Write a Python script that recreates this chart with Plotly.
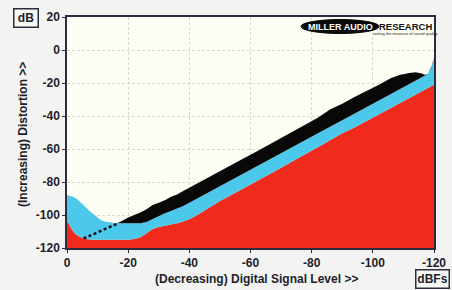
import plotly.graph_objects as go

# ---- data ----
level_dbfs = [0, -1, -2, -3, -4, -5, -6, -7, -8, -9, -10, -11, -12, -13, -14, -15, -16, -17, -18,
              -20, -22, -24, -26, -28, -30, -32, -34, -36, -38, -40, -43, -46, -50, -54, -58,
              -62, -66, -70, -74, -78, -82, -86, -90, -94, -98, -102, -106, -109, -112, -114,
              -116, -117, -118, -119, -119.5, -120]

red_top = [-103.5, -107, -110, -112, -113.2, -114, -114.5, -114.8, -115, -115, -115, -115, -115,
           -115, -115, -115, -115, -115, -115, -115, -114.5, -113.5, -111, -108.5, -107.3,
           -106.6, -106, -105, -104, -102.6, -99.5, -96, -91.5, -87.5, -83.6, -79.5, -75.5,
           -71.3, -67, -63, -59, -54.5, -50.5, -47, -43, -39, -35, -32.5, -29.5, -27.5, -25.5,
           -24.5, -23.5, -22.5, -22, -21]

cyan_top = [-88, -88.5, -89, -90, -91.5, -93, -95, -97, -98.5, -100, -101.5, -103, -103.8, -104.2,
            -104.6, -104.8, -105, -105, -105, -105, -105, -105, -104.3, -102.5, -100.5, -99,
            -97.5, -96, -94.5, -92.5, -89.5, -86.5, -82.8, -79, -75, -71, -67, -63, -59, -55,
            -51, -46.5, -42.5, -38.5, -34.5, -30.5, -26.5, -23.5, -20.5, -18.5, -16.5, -15.5,
            -14.5, -11, -8.5, -5]

black_top = [-88, -88.5, -89, -90, -91.5, -93, -95, -97, -98.5, -100, -101.5, -103, -103.8, -104.2,
             -104.6, -104.8, -105, -104.5, -103.5, -101.5, -100, -98.5, -96.5, -94, -92.5, -91,
             -89, -87.5, -85.5, -83.5, -80.5, -77, -73, -69.3, -65.5, -61.5, -57.5, -53.5,
             -49.5, -45, -41, -36, -32.5, -28.5, -25, -21, -17, -15, -14, -13.5, -14.2, -15,
             -14.5, -11, -8.5, -5]

dotted_x = [-5.4, -16.8]
dotted_y = [-114.2, -105]

x_ticks = [0, -20, -40, -60, -80, -100, -120]
y_ticks = [20, 0, -20, -40, -60, -80, -100, -120]

FLOOR = -120
TXT = "#1e1e2c"
FONT = "Liberation Sans"

fig = go.Figure()
fig.add_trace(go.Scatter(x=level_dbfs, y=[FLOOR] * len(level_dbfs), mode="lines",
                         line=dict(width=0), showlegend=False, hoverinfo="skip"))
fig.add_trace(go.Scatter(x=level_dbfs, y=red_top, mode="lines", fill="tonexty",
                         fillcolor="#f02a1c", line=dict(width=0), showlegend=False))
fig.add_trace(go.Scatter(x=level_dbfs, y=cyan_top, mode="lines", fill="tonexty",
                         fillcolor="#4cc9ea", line=dict(width=0), showlegend=False))
fig.add_trace(go.Scatter(x=level_dbfs, y=black_top, mode="lines", fill="tonexty",
                         fillcolor="#080808", line=dict(width=0), showlegend=False))
fig.add_trace(go.Scatter(x=dotted_x, y=dotted_y, mode="lines",
                         line=dict(color="#101030", width=2.5, dash="3px,2.5px"),
                         showlegend=False))

axis_common = dict(
    showline=True, mirror=True, linecolor="#2c2c40", linewidth=1.5,
    showgrid=True, gridcolor="#d9d9d2", gridwidth=1, griddash="3px,2px",
    ticks="outside", ticklen=3, tickcolor="#2c2c40",
    tickfont=dict(family=FONT, size=12, color=TXT, weight="bold"),
    zeroline=False, automargin=False,
)

fig.update_xaxes(range=[0, -120], tickvals=x_ticks, ticktext=[str(v) for v in x_ticks],
                 **axis_common)
fig.update_yaxes(range=[-120, 20], tickvals=y_ticks, ticktext=[str(v) for v in y_ticks],
                 **axis_common)

ann_font = dict(family=FONT, size=12, color=TXT, weight="bold")
annotations = [
    dict(text="(Decreasing) Digital Signal Level >>", xref="paper", yref="paper",
         x=(256.5 - 67) / 367, y=(248 - 279) / 231, showarrow=False, font=ann_font,
         xanchor="center", yanchor="middle"),
    dict(text="(Increasing) Distortion >>", xref="paper", yref="paper",
         x=(23 - 67) / 367, y=(248 - 135) / 231, showarrow=False, font=ann_font,
         textangle=-90, xanchor="center", yanchor="middle"),
    dict(text="dB", xref="paper", yref="paper", x=(26 - 67) / 367, y=(248 - 18) / 231,
         showarrow=False, font=ann_font, bordercolor="#2c2c40", borderwidth=1.5,
         borderpad=1, width=21, height=15, xanchor="center", yanchor="middle",
         bgcolor="#f6f6f2"),
    dict(text="dBFs", xref="paper", yref="paper", x=(432.5 - 67) / 367,
         y=(248 - 278.5) / 231, showarrow=False, font=ann_font, bordercolor="#2c2c40",
         borderwidth=1.5, borderpad=1, width=30, height=15, xanchor="center",
         yanchor="middle", bgcolor="#f6f6f2"),
    dict(text="MILLER AUDIO", xref="paper", yref="paper", x=(340 - 67) / 367,
         y=(248 - 26.5) / 231, showarrow=False,
         font=dict(family=FONT, size=9, color="white", weight="bold"),
         xanchor="center", yanchor="middle"),
    dict(text="RESEARCH", xref="paper", yref="paper", x=(405.5 - 67) / 367,
         y=(248 - 26) / 231, showarrow=False,
         font=dict(family=FONT, size=9.5, color="#111111", weight="bold"),
         xanchor="center", yanchor="middle"),
    dict(text="setting the measure of sound quality", xref="paper", yref="paper",
         x=(405 - 67) / 367, y=(248 - 33.5) / 231, showarrow=False,
         font=dict(family=FONT, size=4, color="#222222"),
         xanchor="center", yanchor="middle"),
]

shapes = [
    dict(type="circle", xref="paper", yref="paper",
         x0=(301 - 67) / 367, x1=(379 - 67) / 367,
         y0=(248 - 33.5) / 231, y1=(248 - 19.5) / 231,
         fillcolor="#0a0a0a", line=dict(color="#0a0a0a", width=1), layer="above"),
]

fig.update_layout(
    width=452, height=290,
    margin=dict(l=67, r=18, t=17, b=42, autoexpand=False),
    paper_bgcolor="#f3f4f2",
    plot_bgcolor="#fdfdf3",
    annotations=annotations,
    shapes=shapes,
    showlegend=False,
)

fig.write_html("out.html", config={"displayModeBar": False},
               post_script="document.body.style.margin='0';document.body.style.padding='0';")
